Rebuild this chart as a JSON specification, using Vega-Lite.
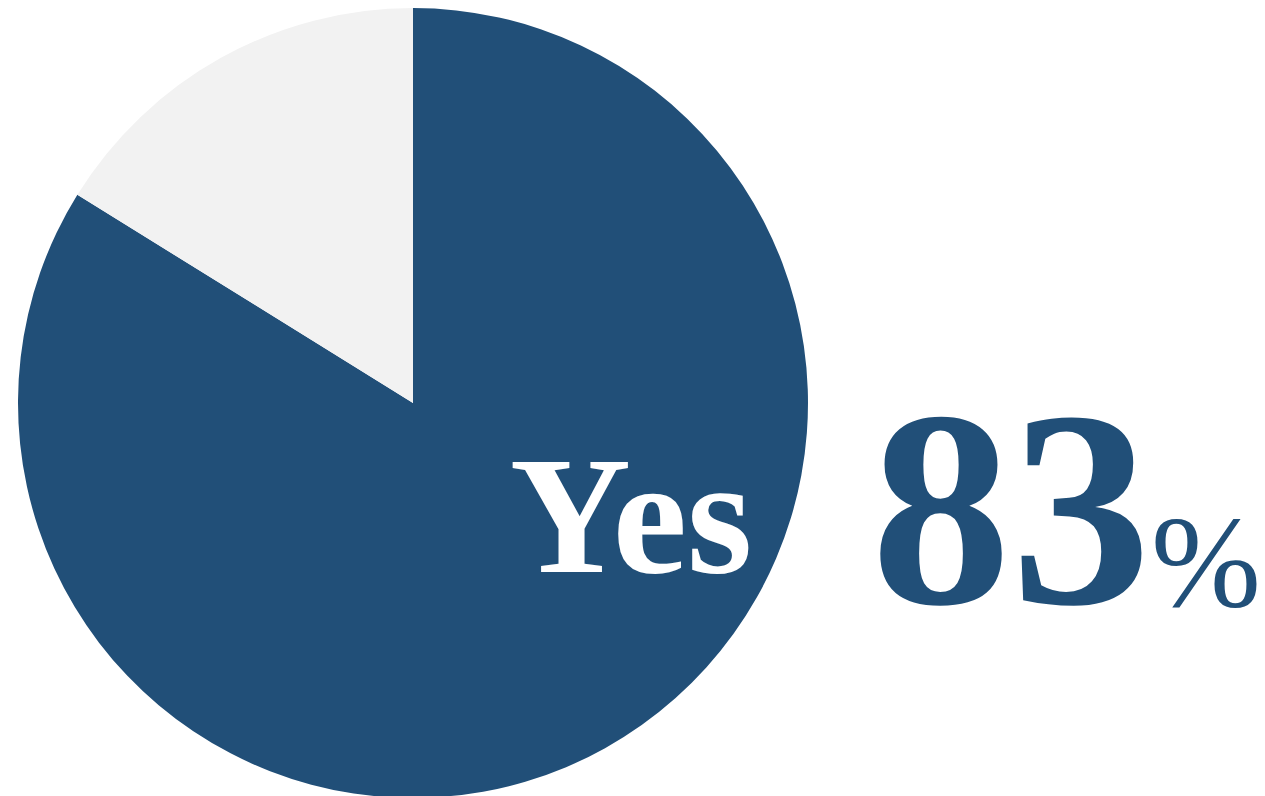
{
  "$schema": "https://vega.github.io/schema/vega-lite/v6.json",
  "width": 826,
  "height": 806,
  "padding": {"left": 0, "top": 0, "right": 439, "bottom": 0},
  "autosize": {"type": "none"},
  "background": "#ffffff",
  "config": {"view": {"stroke": null}},
  "data": {"values": [
    {"answer": "Yes", "value": 83},
    {"answer": "No", "value": 16}
  ]},
  "layer": [
    {
      "mark": {"type": "arc", "outerRadius": 395, "stroke": null},
      "encoding": {
        "theta": {"field": "value", "type": "quantitative", "stack": true},
        "order": {"field": "value", "type": "quantitative", "sort": "descending"},
        "color": {"field": "answer", "type": "nominal", "scale": {"domain": ["Yes", "No"], "range": ["#214f78", "#f2f2f2"]}, "legend": null}
      }
    },
    {
      "transform": [{"filter": "datum.answer === 'Yes'"}],
      "mark": {"type": "text", "font": "Liberation Serif", "fontWeight": "bold", "fontSize": 168, "color": "#ffffff", "align": "center", "baseline": "alphabetic", "dx": 218, "dy": 169},
      "encoding": {"text": {"field": "answer"}}
    },
    {
      "transform": [{"filter": "datum.answer === 'Yes'"}],
      "mark": {"type": "text", "font": "Liberation Serif", "fontWeight": "bold", "fontSize": 280, "color": "#214f78", "align": "center", "baseline": "alphabetic", "dx": 598, "dy": 200},
      "encoding": {"text": {"field": "value"}}
    },
    {
      "transform": [{"filter": "datum.answer === 'Yes'"}],
      "mark": {"type": "text", "font": "Liberation Serif", "fontSize": 132, "color": "#214f78", "align": "center", "baseline": "alphabetic", "dx": 793, "dy": 203, "text": "%"},
      "encoding": {}
    }
  ]
}
